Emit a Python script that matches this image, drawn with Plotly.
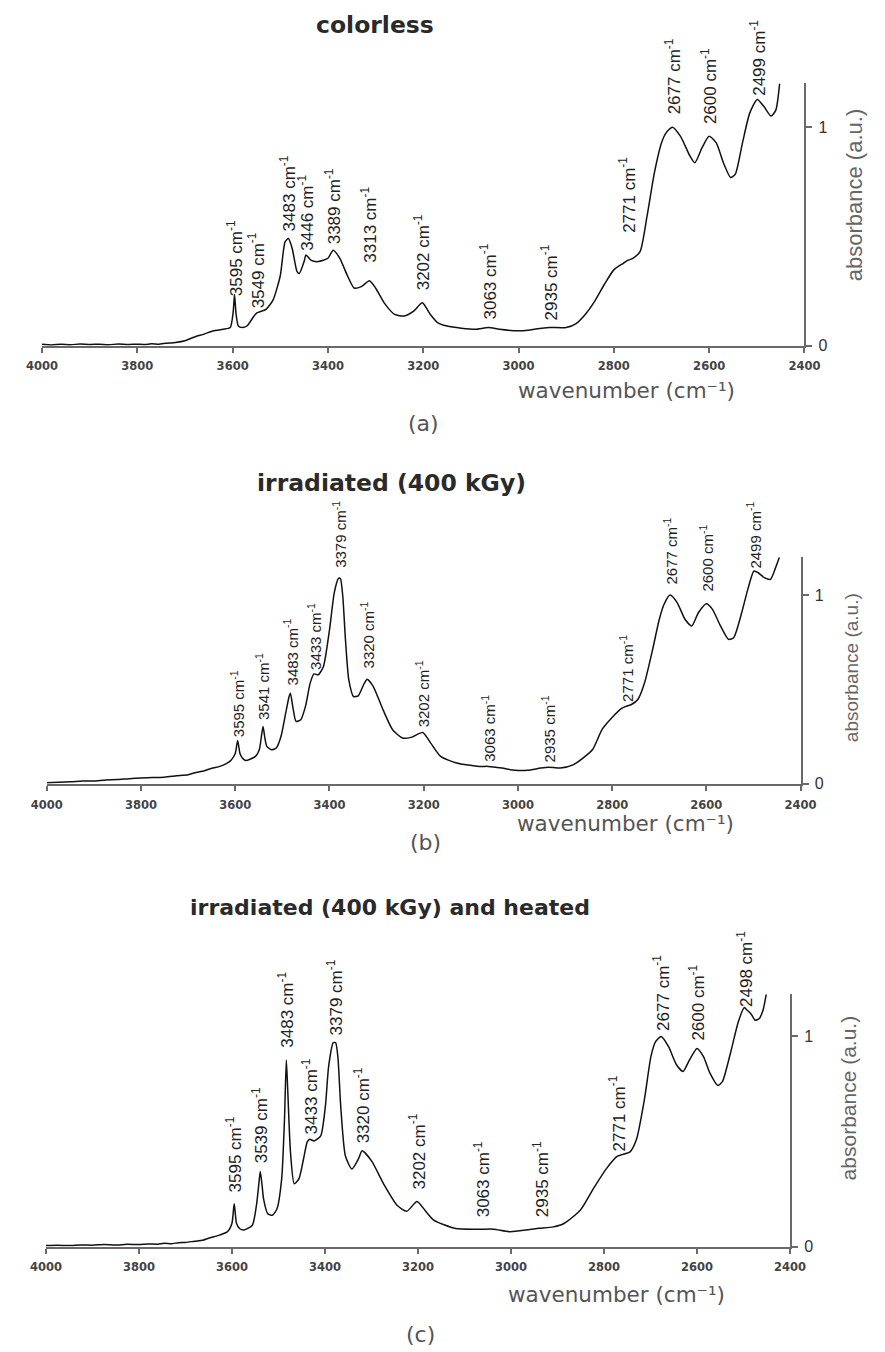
import numpy as np
import plotly.graph_objects as go

# ---------------- spectra (wavenumber in cm-1, absorbance in a.u.) ----------------
wn_a = [4000, 3980, 3960, 3940, 3920, 3900, 3880, 3860, 3840, 3820, 3800, 3785, 3770, 3755,
        3740, 3720, 3700, 3680, 3660, 3640, 3620,
        3605, 3599, 3596, 3593, 3588, 3580, 3570, 3555, 3549, 3530, 3515, 3500, 3490, 3483,
        3475, 3465, 3460, 3450, 3446, 3435, 3420, 3400, 3389, 3375, 3360, 3345, 3330, 3313,
        3300, 3280, 3260, 3240, 3220, 3202, 3185, 3170, 3150, 3120, 3090, 3063, 3040, 3000,
        2980, 2960, 2935, 2900, 2880, 2860, 2840, 2820, 2800, 2780, 2771, 2760, 2745, 2730,
        2715, 2700, 2690, 2677, 2660, 2640, 2630, 2615, 2600, 2585, 2570, 2555, 2545, 2530,
        2515, 2499, 2485, 2470, 2460, 2452]
abs_a = [0.006, 0.003, 0.007, 0.004, 0.008, 0.005, 0.007, 0.004, 0.008, 0.005, 0.007, 0.005,
         0.009, 0.007, 0.011, 0.015, 0.023, 0.040, 0.053, 0.068, 0.075,
         0.083, 0.150, 0.234, 0.150, 0.090, 0.083, 0.090, 0.136, 0.150, 0.166,
         0.210, 0.320, 0.475, 0.490, 0.445, 0.340, 0.330, 0.385, 0.415, 0.390, 0.385, 0.400,
         0.437, 0.400, 0.325, 0.264, 0.270, 0.297, 0.264, 0.190, 0.143, 0.136, 0.158, 0.196,
         0.143, 0.106, 0.090, 0.080, 0.075, 0.083, 0.075, 0.068, 0.071, 0.078, 0.083, 0.083,
         0.100, 0.143, 0.204, 0.280, 0.347, 0.377, 0.390, 0.400, 0.430, 0.596, 0.790, 0.928,
         0.975, 1.000, 0.958, 0.867, 0.837, 0.905, 0.958, 0.928, 0.837, 0.770, 0.785, 0.928,
         1.063, 1.127, 1.094, 1.051, 1.078, 1.200]

wn_b = [4000, 3975, 3950, 3925, 3900, 3875, 3850, 3825, 3800, 3775, 3750, 3725, 3700, 3683,
        3667, 3650, 3633, 3620, 3609, 3600, 3595, 3590, 3585,
        3578, 3557, 3549, 3544, 3541, 3537, 3533, 3523, 3513, 3503, 3493, 3486, 3483, 3478,
        3471, 3461, 3451, 3441, 3433, 3424, 3413, 3400, 3390, 3381, 3377, 3372, 3366, 3359,
        3349, 3339, 3326, 3320, 3307, 3286, 3266, 3245, 3225, 3202, 3185, 3164, 3130, 3082,
        3063, 3034, 3006, 2979, 2952, 2935, 2910, 2883, 2860, 2841, 2821, 2800, 2780, 2771,
        2759, 2745, 2731, 2714, 2700, 2690, 2677, 2662, 2645, 2631, 2617, 2600, 2587, 2570,
        2553, 2542, 2525, 2512, 2499, 2490, 2477, 2464, 2453, 2445]
abs_b = [0.005, 0.008, 0.010, 0.014, 0.015, 0.020, 0.022, 0.027, 0.030, 0.033, 0.035, 0.042,
         0.048, 0.060, 0.068, 0.082, 0.092, 0.105, 0.125, 0.160, 0.229, 0.160, 0.136,
         0.123, 0.145, 0.180, 0.260, 0.303, 0.240, 0.198, 0.180, 0.189, 0.250,
         0.374, 0.460, 0.480, 0.410, 0.330, 0.339, 0.410, 0.533, 0.582, 0.577, 0.620, 0.815,
         1.010, 1.088, 1.088, 1.000, 0.760, 0.550, 0.462, 0.466, 0.533, 0.554, 0.515, 0.390,
         0.286, 0.242, 0.247, 0.272, 0.215, 0.145, 0.110, 0.092, 0.092, 0.083, 0.071, 0.071,
         0.083, 0.088, 0.083, 0.100, 0.140, 0.183, 0.289, 0.351, 0.399, 0.410, 0.420, 0.448,
         0.536, 0.712, 0.870, 0.950, 1.000, 0.960, 0.870, 0.836, 0.906, 0.954, 0.924, 0.836,
         0.765, 0.774, 0.906, 1.030, 1.127, 1.118, 1.092, 1.083, 1.145, 1.200]

wn_c = [4000, 3975, 3950, 3925, 3900, 3875, 3850, 3825, 3800, 3780, 3760, 3745, 3730, 3715,
        3700, 3680, 3663, 3650, 3627, 3610, 3600, 3595,
        3590, 3583, 3574, 3556, 3547, 3542, 3539, 3535, 3532, 3523, 3513, 3503, 3493, 3487,
        3483, 3480, 3474, 3466, 3456, 3446, 3438, 3433, 3423, 3409, 3399, 3392, 3382, 3377,
        3372, 3366, 3356, 3342, 3328, 3320, 3300, 3272, 3245, 3224, 3202, 3182, 3166, 3119,
        3063, 3037, 3002, 2944, 2935, 2909, 2886, 2851, 2823, 2795, 2771, 2744, 2730, 2713,
        2699, 2689, 2677, 2661, 2644, 2630, 2616, 2600, 2586, 2572, 2555, 2545, 2528, 2511,
        2498, 2492, 2484, 2475, 2466, 2458, 2451]
abs_c = [0.005, 0.007, 0.005, 0.008, 0.007, 0.010, 0.008, 0.011, 0.010, 0.013, 0.012, 0.016,
         0.014, 0.019, 0.020, 0.026, 0.030, 0.040, 0.055, 0.070, 0.110, 0.204,
         0.110, 0.085, 0.079, 0.102, 0.200, 0.300, 0.357, 0.290, 0.228, 0.157,
         0.149, 0.180, 0.322, 0.600, 0.888, 0.747, 0.448, 0.299, 0.322, 0.417, 0.498, 0.511,
         0.503, 0.527, 0.668, 0.857, 0.970, 0.970, 0.900, 0.668, 0.432, 0.369, 0.417, 0.456,
         0.409, 0.291, 0.197, 0.168, 0.215, 0.165, 0.126, 0.086, 0.083, 0.083, 0.071, 0.086,
         0.088, 0.094, 0.110, 0.173, 0.275, 0.370, 0.430, 0.451, 0.511, 0.700, 0.904, 0.975,
         1.000, 0.951, 0.865, 0.833, 0.888, 0.943, 0.904, 0.825, 0.766, 0.786, 0.920, 1.070,
         1.137, 1.124, 1.108, 1.077, 1.085, 1.124, 1.200]

# band positions labelled on each spectrum (cm-1)
peaks_a = [3595, 3549, 3483, 3446, 3389, 3313, 3202, 3063, 2935, 2771, 2677, 2600, 2499]
peaks_b = [3595, 3541, 3483, 3433, 3379, 3320, 3202, 3063, 2935, 2771, 2677, 2600, 2499]
peaks_c = [3595, 3539, 3483, 3433, 3379, 3320, 3202, 3063, 2935, 2771, 2677, 2600, 2498]

titles = ["colorless", "irradiated (400 kGy)", "irradiated (400 kGy) and heated"]
captions = ["(a)", "(b)", "(c)"]
x_ticks = [4000, 3800, 3600, 3400, 3200, 3000, 2800, 2600, 2400]
y_ticks = [0, 1]

# ---------------- page geometry ----------------
W, H = 885, 1352


def px(x):
    return x / W


def py(y):
    return 1 - y / H


panels = [
    dict(wn=wn_a, ab=abs_a, peaks=peaks_a,
         lift=[0.016, 0.016, 0.03, 0.015, 0.023, 0.08, 0.054, 0.03, 0.03, 0.12, 0.056, 0.052, 0.013],
         left=27, right=818, base=348, top=84, lab_fs=17,
         title_xy=(372, 25), title_fs=23.5, wl_xy=(633, 393), cap_xy=(423, 426),
         ab_xy=(870, 197), ab_fs=22),
    dict(wn=wn_b, ab=abs_b, peaks=peaks_b,
         lift=[0.013, 0.027, 0.035, 0.018, 0.05, 0.05, 0.023, 0.018, 0.02, 0.02, 0.048, 0.058, 0.01],
         left=32, right=814, base=789, top=561, lab_fs=15,
         title_xy=(390, 486), title_fs=23.5, wl_xy=(632, 829), cap_xy=(425, 848),
         ab_xy=(867, 672), ab_fs=19),
    dict(wn=wn_c, ab=abs_c, peaks=peaks_c,
         lift=[0.05, 0.036, 0.055, 0.016, 0.028, 0.031, 0.052, 0.05, 0.048, 0.02, 0.022, 0.032, 0.0],
         left=31, right=803, base=1255, top=1001, lab_fs=17,
         title_xy=(388, 914), title_fs=22, wl_xy=(623, 1303), cap_xy=(420, 1343),
         ab_xy=(864, 1105), ab_fs=21),
]

AXIS_COL = "#6a6a6a"
TEXT_COL = "#222222"
GREY_TEXT = "#555555"
SANS = "DejaVu Sans"
ARIAL = "Liberation Sans, Arial"

fig = go.Figure()
annotations = []
layout_axes = {}

for i, p in enumerate(panels):
    n = "" if i == 0 else str(i + 1)
    xname, yname = "x" + n, "y" + n

    fig.add_trace(go.Scatter(
        x=p["wn"], y=p["ab"], mode="lines", xaxis=xname, yaxis=yname,
        line=dict(color="#111111", width=1.5, shape="spline", smoothing=0.6),
        showlegend=False, hoverinfo="skip"))

    layout_axes["xaxis" + n] = dict(
        domain=[px(p["left"]), px(p["right"])], anchor=yname,
        range=[4000, 2400], tickvals=x_ticks, ticks="outside", ticklen=5,
        tickwidth=1.5, tickcolor=AXIS_COL, showline=True, linecolor=AXIS_COL,
        linewidth=2, showgrid=False, zeroline=False, ticklabelstandoff=4,
        tickfont=dict(family=SANS, size=11.5, color="#444444", weight="bold"))
    layout_axes["yaxis" + n] = dict(
        domain=[py(p["base"]), py(p["top"])], anchor=xname, side="right",
        range=[0, 1.2], tickvals=y_ticks, ticks="outside", ticklen=6,
        tickwidth=1.5, tickcolor=AXIS_COL, showline=True, linecolor=AXIS_COL,
        linewidth=2, showgrid=False, zeroline=False, ticklabelstandoff=3,
        tickfont=dict(family=ARIAL, size=16, color="#333333"))

    # rotated band labels sitting just above the curve
    for wv, lift in zip(p["peaks"], p["lift"]):
        yv = float(np.interp(wv, p["wn"][::-1], p["ab"][::-1])) + lift
        annotations.append(dict(
            x=wv, y=yv, xref=xname, yref=yname, text=f"{wv} cm<sup>-1</sup>",
            textangle=-90, showarrow=False, xanchor="center", yanchor="bottom",
            borderpad=0, font=dict(family=ARIAL, size=p["lab_fs"], color=TEXT_COL)))

    tx, ty = p["title_xy"]
    annotations.append(dict(
        x=px(tx), y=py(ty), xref="paper", yref="paper", text=titles[i],
        showarrow=False, xanchor="center", yanchor="middle",
        font=dict(family=SANS, size=p["title_fs"], color="#2a2a2a", weight="bold")))
    wx, wy = p["wl_xy"]
    annotations.append(dict(
        x=px(wx), y=py(wy), xref="paper", yref="paper",
        text="wavenumber (cm\u207b\u00b9)", showarrow=False,
        xanchor="center", yanchor="middle",
        font=dict(family=SANS, size=21.5, color=GREY_TEXT)))
    cx, cy = p["cap_xy"]
    annotations.append(dict(
        x=px(cx), y=py(cy), xref="paper", yref="paper", text=captions[i],
        showarrow=False, xanchor="center", yanchor="middle",
        font=dict(family=SANS, size=22, color=GREY_TEXT)))
    ax_, ay_ = p["ab_xy"]
    annotations.append(dict(
        x=px(ax_), y=py(ay_), xref="paper", yref="paper", text="absorbance (a.u.)",
        textangle=-90, showarrow=False, xanchor="center", yanchor="middle",
        font=dict(family=ARIAL, size=p["ab_fs"], color="#666666")))

fig.update_layout(
    width=W, height=H, autosize=False,
    margin=dict(l=0, r=0, t=0, b=0),
    paper_bgcolor="white", plot_bgcolor="white",
    annotations=annotations, **layout_axes)

fig.write_html("out.html")
